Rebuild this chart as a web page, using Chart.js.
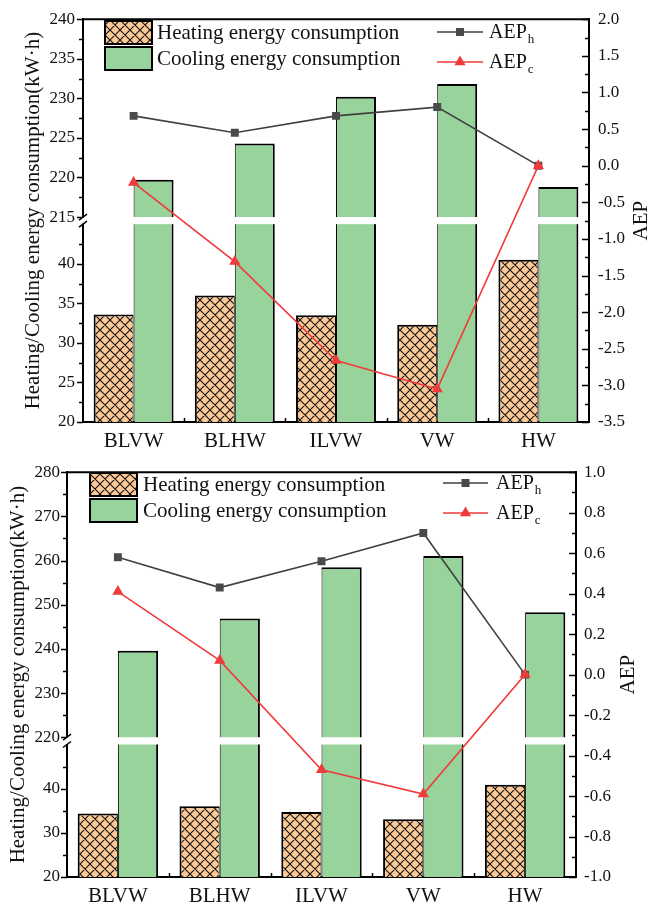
<!DOCTYPE html>
<html>
<head>
<meta charset="utf-8">
<script src="https://cdn.jsdelivr.net/npm/chart.js@4.4.0/dist/chart.umd.min.js"></script>
<style>
    html, body { margin: 0; padding: 0; background: #fff; }
    canvas { position: absolute; left: 0; }
    #c1 { top: 0; }
    #c2 { top: 454px; }
</style>
</head>
<body>
<canvas id="c1" width="649" height="454"></canvas>
<canvas id="c2" width="649" height="454"></canvas>
<script>
const categories = ['BLVW', 'BLHW', 'ILVW', 'VW', 'HW'];

// upper panel
const heatingTop = [33.6, 36.0, 33.5, 32.3, 40.5];
const coolingTop = [219.7, 224.3, 230.2, 231.8, 218.8];
const aephTop = [0.68, 0.45, 0.68, 0.80, 0.0];
const aepcTop = [-0.23, -1.31, -2.66, -3.05, 0.0];
const leftTicksTop = [20, 25, 30, 35, 40, 215, 220, 225, 230, 235, 240];

// lower panel
const heatingBottom = [34.4, 36.0, 34.7, 33.1, 40.9];
const coolingBottom = [239.6, 246.9, 258.5, 261.0, 248.3];
const aephBottom = [0.58, 0.43, 0.56, 0.70, 0.0];
const aepcBottom = [0.41, 0.07, -0.47, -0.59, 0.0];
const leftTicksBottom = [20, 30, 40, 220, 230, 240, 250, 260, 270, 280];

const FONT = '"Liberation Serif", "Times New Roman", serif';
const PEACH = '#fdc997';
const GREEN = '#97d39b';
const GRAY = '#404040';
const RED = '#ef3b3b';

Chart.defaults.font.family = FONT;
Chart.defaults.color = '#111';

// broken left axis: values are mapped onto one continuous axis with a gap
function makeBreak(low, high, gap) {
    const lowSpan = low[1] - low[0];
    return {
        low, high, gap,
        max: lowSpan + gap + (high[1] - high[0]),
        toAxis: v => v <= low[1] ? v - low[0] : lowSpan + gap + (v - high[0]),
        fromAxis: a => a <= lowSpan + 1e-9 ? a + low[0] : a - lowSpan - gap + high[0]
    };
}

function makeHatch(ctx) {
    const c = document.createElement('canvas');
    c.width = 10; c.height = 10;
    const g = c.getContext('2d');
    g.fillStyle = PEACH;
    g.fillRect(0, 0, 10, 10);
    g.strokeStyle = '#111';
    g.lineWidth = 1.1;
    g.beginPath();
    [-10, 0, 10].forEach(k => {
        g.moveTo(k - 1, -1); g.lineTo(k + 11, 11);
        g.moveTo(k + 11, -1); g.lineTo(k - 1, 11);
    });
    g.stroke();
    return ctx.createPattern(c, 'repeat');
}

function drawMarker(ctx, style, x, y) {
    ctx.beginPath();
    if (style === 'rect') {
        ctx.rect(x - 4, y - 4, 8, 8);
    } else {
        const r = 6.5;
        ctx.moveTo(x, y - r);
        ctx.lineTo(x + r * 0.866, y + r / 2);
        ctx.lineTo(x - r * 0.866, y + r / 2);
        ctx.closePath();
    }
    ctx.fill();
}

function makePanel(canvasId, p) {
    const canvas = document.getElementById(canvasId);
    const ctx = canvas.getContext('2d');
    const brk = makeBreak(p.low, p.high, p.gap);
    const hatch = makeHatch(ctx);

    const minorLeft = [];
    p.leftTicks.forEach(v => {
        const m = v + p.leftStep / 2;
        const segEnd = v <= p.low[1] ? p.low[1] : p.high[1];
        if (m < segEnd - 1e-9) minorLeft.push(m);
    });

    const decor = {
        id: 'decor',
        beforeDatasetDraw(chart, args) {
            if (args.index !== 2) return; // white break band over the bars, under the lines
            const a = chart.chartArea, y = chart.scales.y;
            const yTop = y.getPixelForValue(brk.toAxis(p.high[0]));
            const yBot = y.getPixelForValue(brk.toAxis(p.low[1]));
            ctx.save();
            ctx.fillStyle = '#fff';
            ctx.fillRect(a.left + 1, yTop, a.right - a.left - 2, yBot - yTop);
            ctx.restore();
        },
        afterDraw(chart) {
            const a = chart.chartArea;
            const {x, y, y1} = chart.scales;
            ctx.save();
            ctx.strokeStyle = '#000';

            // top frame line
            ctx.lineWidth = 2;
            ctx.beginPath();
            ctx.moveTo(a.left - 1, a.top);
            ctx.lineTo(a.right + 1, a.top);
            ctx.stroke();

            // left ticks (outward)
            ctx.lineWidth = 1.5;
            ctx.beginPath();
            p.leftTicks.forEach(v => {
                const py = Math.round(y.getPixelForValue(brk.toAxis(v))) + 0.5;
                ctx.moveTo(a.left - 6, py); ctx.lineTo(a.left, py);
            });
            minorLeft.forEach(v => {
                const py = Math.round(y.getPixelForValue(brk.toAxis(v))) + 0.5;
                ctx.moveTo(a.left - 4, py); ctx.lineTo(a.left, py);
            });
            // right ticks (inward)
            const rt = y1.ticks.map(t => t.value);
            rt.forEach((v, i) => {
                const py = Math.round(y1.getPixelForValue(v)) + 0.5;
                ctx.moveTo(a.right - 7, py); ctx.lineTo(a.right, py);
                if (i < rt.length - 1) {
                    const pm = Math.round(y1.getPixelForValue((v + rt[i + 1]) / 2)) + 0.5;
                    ctx.moveTo(a.right - 4, pm); ctx.lineTo(a.right, pm);
                }
            });
            // x ticks between groups (inward)
            for (let i = 1; i < categories.length; i++) {
                const px = Math.round((x.getPixelForValue(i - 1) + x.getPixelForValue(i)) / 2) + 0.5;
                ctx.moveTo(px, a.bottom); ctx.lineTo(px, a.bottom - 4);
            }
            ctx.stroke();

            // axis break mark
            const yTop = y.getPixelForValue(brk.toAxis(p.high[0]));
            const yBot = y.getPixelForValue(brk.toAxis(p.low[1]));
            ctx.fillStyle = '#fff';
            ctx.fillRect(a.left - 2, yTop + 0.5, 4, yBot - yTop - 1);
            ctx.lineWidth = 1.5;
            ctx.beginPath();
            [yTop, yBot].forEach(py => {
                ctx.moveTo(a.left - 4, py + 3); ctx.lineTo(a.left + 4, py - 3);
            });
            ctx.stroke();

            // right axis title
            ctx.fillStyle = '#111';
            ctx.font = '21px ' + FONT;
            ctx.textAlign = 'center';
            ctx.textBaseline = 'middle';
            ctx.translate(p.rightTitleX, (a.top + a.bottom) / 2);
            ctx.rotate(-Math.PI / 2);
            ctx.fillText('AEP', 0, 0);
            ctx.restore();

            drawLegend(chart);
        }
    };

    function drawLegend(chart) {
        const L = p.legend;
        const ds = chart.data.datasets;
        ctx.save();
        ctx.lineWidth = 2;
        ctx.strokeStyle = '#000';
        [0, 1].forEach(i => {
            const by = L.boxY[i];
            ctx.fillStyle = ds[i].backgroundColor;
            ctx.fillRect(L.boxX, by, L.boxW, L.boxH);
            ctx.strokeRect(L.boxX, by, L.boxW, L.boxH);
            ctx.fillStyle = '#111';
            ctx.font = '21px ' + FONT;
            ctx.textBaseline = 'middle';
            ctx.textAlign = 'left';
            ctx.fillText(ds[i].label, L.textX, by + L.boxH / 2 + 1);
        });
        [2, 3].forEach((i, k) => {
            const ly = L.lineY[k];
            ctx.strokeStyle = ds[i].borderColor;
            ctx.lineWidth = 1.5;
            ctx.beginPath();
            ctx.moveTo(L.lineX[0], ly); ctx.lineTo(L.lineX[1], ly);
            ctx.stroke();
            ctx.fillStyle = ds[i].backgroundColor;
            drawMarker(ctx, ds[i].pointStyle, (L.lineX[0] + L.lineX[1]) / 2, ly);
            ctx.fillStyle = '#111';
            ctx.textBaseline = 'middle';
            ctx.font = '20px ' + FONT;
            ctx.fillText(ds[i].label, L.lineText, ly + 1);
            const w = ctx.measureText(ds[i].label).width;
            ctx.font = '13px ' + FONT;
            ctx.fillText(ds[i].sub, L.lineText + w + 1, ly + 8);
        });
        ctx.restore();
    }

    return new Chart(ctx, {
        data: {
            labels: categories,
            datasets: [
                {
                    type: 'bar', label: 'Heating energy consumption', yAxisID: 'y',
                    data: p.heating.map(brk.toAxis),
                    backgroundColor: hatch, borderColor: '#000',
                    borderWidth: {top: 2, left: 2, right: 1, bottom: 0}, borderSkipped: false,
                    categoryPercentage: 0.79, barPercentage: 1.0, order: 3
                },
                {
                    type: 'bar', label: 'Cooling energy consumption', yAxisID: 'y',
                    data: p.cooling.map(brk.toAxis),
                    backgroundColor: GREEN, borderColor: '#000',
                    borderWidth: {top: 2, left: 1, right: 2, bottom: 0}, borderSkipped: false,
                    categoryPercentage: 0.79, barPercentage: 1.0, order: 3
                },
                {
                    type: 'line', label: 'AEP', sub: 'h', yAxisID: 'y1', data: p.aeph,
                    borderColor: GRAY, backgroundColor: '#4a4a4a', borderWidth: 1.6,
                    pointStyle: 'rect', pointRadius: 5.6, pointBorderWidth: 0, order: 2
                },
                {
                    type: 'line', label: 'AEP', sub: 'c', yAxisID: 'y1', data: p.aepc,
                    borderColor: RED, backgroundColor: RED, borderWidth: 1.6,
                    pointStyle: 'triangle', pointRadius: 6.5, pointBorderWidth: 0, order: 1
                }
            ]
        },
        options: {
            responsive: false,
            animation: false,
            layout: { padding: { top: p.area.top, left: 0, right: 0, bottom: 0 } },
            plugins: { legend: { display: false }, tooltip: { enabled: false } },
            scales: {
                x: {
                    grid: { display: false, drawTicks: false },
                    border: { color: '#000', width: 2 },
                    ticks: { color: '#111', font: { size: 21 }, padding: 7 },
                    afterFit: s => { s.height = 454 - p.area.bottom; }
                },
                y: {
                    position: 'left', min: 0, max: brk.max,
                    afterBuildTicks: s => { s.ticks = p.leftTicks.map(v => ({ value: brk.toAxis(v) })); },
                    grid: { display: false, drawTicks: false },
                    border: { color: '#000', width: 2 },
                    ticks: {
                        color: '#111', font: { size: 17 }, padding: p.leftPad,
                        callback: v => String(Math.round(brk.fromAxis(v) * 10) / 10)
                    },
                    title: {
                        display: true, text: 'Heating/Cooling energy consumption(kW·h)',
                        color: '#111', font: { size: 21 }, padding: { top: p.titlePad, bottom: 0 }
                    },
                    afterFit: s => { s.width = p.area.left; }
                },
                y1: {
                    position: 'right', min: p.aepMin, max: p.aepMax,
                    grid: { display: false, drawTicks: false },
                    border: { color: '#000', width: 2 },
                    ticks: {
                        stepSize: p.aepStep, color: '#111', font: { size: 17 }, padding: p.rightPad,
                        callback: v => (Math.abs(v) < 1e-9 ? 0 : v).toFixed(1)
                    },
                    afterFit: s => { s.width = 649 - p.area.right; }
                }
            }
        },
        plugins: [decor]
    });
}

makePanel('c1', {
    heating: heatingTop, cooling: coolingTop, aeph: aephTop, aepc: aepcTop,
    leftTicks: leftTicksTop, leftStep: 5,
    low: [20, 45], high: [215, 240], gap: 0.9,
    aepMin: -3.5, aepMax: 2.0, aepStep: 0.5,
    area: { left: 83, right: 589, top: 14, bottom: 422 },
    leftPad: 8, rightPad: 9, titlePad: 21, rightTitleX: 641,
    legend: {
        boxX: 105, boxW: 47, boxH: 23, boxY: [21, 47], textX: 157,
        lineX: [437, 483], lineY: [32, 62], lineText: 489
    }
});

makePanel('c2', {
    heating: heatingBottom, cooling: coolingBottom, aeph: aephBottom, aepc: aepcBottom,
    leftTicks: leftTicksBottom, leftStep: 10,
    low: [20, 50], high: [220, 280], gap: 1.65,
    aepMin: -1.0, aepMax: 1.0, aepStep: 0.2,
    area: { left: 67, right: 576, top: 13, bottom: 423 },
    leftPad: 7, rightPad: 8, titlePad: 6, rightTitleX: 628,
    legend: {
        boxX: 90, boxW: 47, boxH: 23, boxY: [19, 45], textX: 143,
        lineX: [443, 488], lineY: [29, 59], lineText: 496
    }
});
</script>
</body>
</html>
